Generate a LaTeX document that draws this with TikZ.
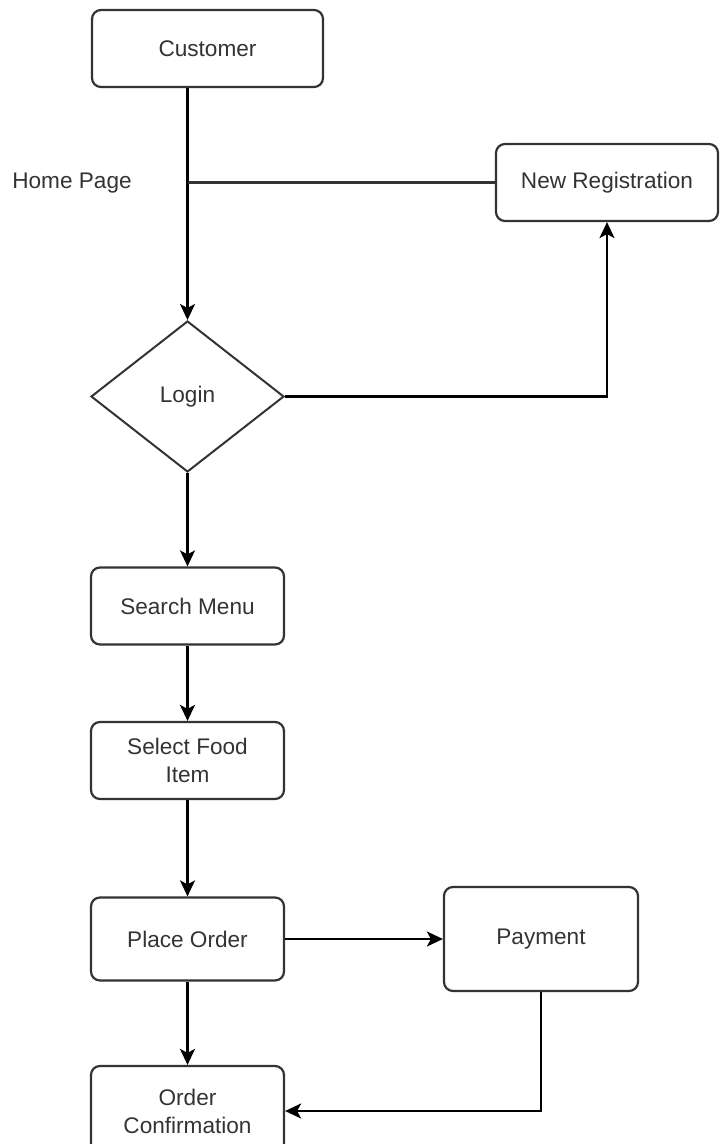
\documentclass[tikz,border=0pt]{standalone}
\usepackage{fontspec}
\setmainfont{Liberation Sans}
\usetikzlibrary{arrows.meta, positioning, shapes.geometric}
\definecolor{boxline}{HTML}{333333}
\definecolor{textgray}{HTML}{333333}
\tikzset{
    box/.style={
        draw=boxline,
        line width=1.1pt,
        rounded corners=4.5pt,
        minimum width=96.5pt,
        minimum height=38.5pt,
        align=center,
        inner sep=2pt
    },
    decision/.style={
        diamond,
        draw=boxline,
        line width=1pt,
        aspect=1.28,
        minimum width=96.5pt,
        minimum height=75.5pt,
        inner sep=0pt
    },
    line/.style={-{Stealth[length=8pt,width=7.5pt,inset=2pt]}, line width=1.1pt},
    plainline/.style={line width=1.1pt, draw=boxline},
    every node/.style={font=\fontsize{11.3}{14}\selectfont, text=textgray}
}
\begin{document}
\begin{tikzpicture}[x=0.5pt,y=-0.5pt]
\useasboundingbox (0,0) rectangle (719,1144);

% top row
\node[box, minimum width=115.5pt] (customer) at (207.5,48.5) {Customer};
\node[box, minimum width=111pt] (newreg) at (607,182.5) {New Registration};
\node (homepage) at (72,183) {Home Page};
\coordinate (hp) at (187.5,182.5);

% main flow
\node[decision] (login) at (187.5,396.5) {Login};
\node[box] (search) at (187.5,606) {Search Menu};
\node[box] (select) at (187.5,760.5) {Select Food\\Item};
\node[box, minimum height=41.5pt] (place) at (187.5,939) {Place Order};
\node[box, minimum width=97pt, minimum height=52pt] (payment) at (541,939) {Payment};
\node[box, minimum height=45pt] (confirm) at (187.5,1111) {Order\\Confirmation};

% connectors
\draw[line] (customer.south -| login.north) -- (login.north);
\draw[plainline] (hp) -- (newreg.west);
\draw[line] (login.east) -| (newreg.south);
\draw[line] (login.south) -- (search.north);
\draw[line] (search.south) -- (select.north);
\draw[line] (select.south) -- (place.north);
\draw[line] (place.east) -- (payment.west);
\draw[line] (place.south) -- (confirm.north);
\draw[line] (payment.south) |- (confirm.east);
\end{tikzpicture}
\end{document}
